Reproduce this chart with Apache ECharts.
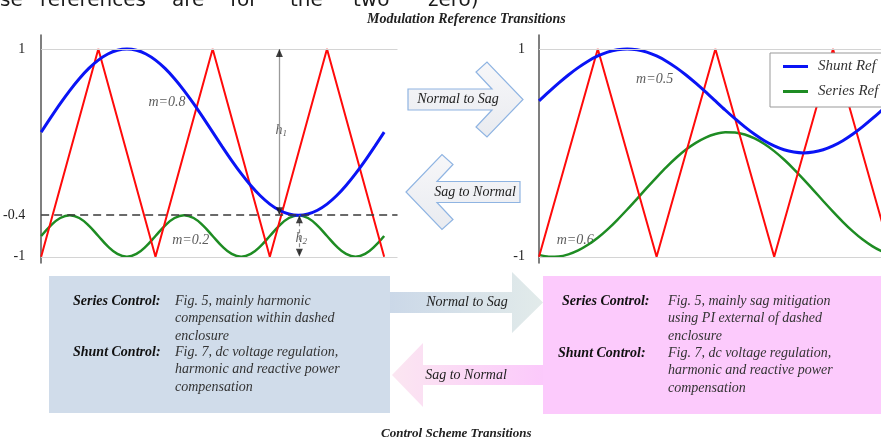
<!DOCTYPE html>
<html><head><meta charset="utf-8">
<script src="https://cdn.jsdelivr.net/npm/echarts@6/dist/echarts.min.js"></script>
<style>html,body{margin:0;padding:0;background:#fff}#c{width:881px;height:441px}</style>
</head><body><div id="c"></div>
<script>
// ================= DATA =================
// phase angle of the fundamental (degrees)
const angleDeg = [0,10,20,30,40,50,60,70,80,90,100,110,120,130,140,150,160,170,180,
  190,200,210,220,230,240,250,260,270,280,290,300,310,320,330,340,350,360];
// Normal operation: shunt reference (m=0.8) and series reference (m=0.2)
const shuntRefNormal = [0.2,0.339,0.474,0.6,0.714,0.813,0.893,0.952,0.988,1.0,0.988,0.952,0.893,
  0.813,0.714,0.6,0.474,0.339,0.2,0.061,-0.074,-0.2,-0.314,-0.413,-0.493,-0.552,-0.588,-0.6,
  -0.588,-0.552,-0.493,-0.413,-0.314,-0.2,-0.074,0.061,0.2];
const seriesRefNormal = [-0.8,-0.7,-0.627,-0.6,-0.627,-0.7,-0.8,-0.9,-0.973,-1.0,-0.973,-0.9,-0.8,
  -0.7,-0.627,-0.6,-0.627,-0.7,-0.8,-0.9,-0.973,-1.0,-0.973,-0.9,-0.8,
  -0.7,-0.627,-0.6,-0.627,-0.7,-0.8,-0.9,-0.973,-1.0,-0.973,-0.9,-0.8];
// Sag operation: shunt reference (m=0.5) and series reference (m=0.6)
const shuntRefSag = [0.5,0.587,0.671,0.75,0.821,0.883,0.933,0.97,0.992,1.0,0.992,0.97,0.933,0.883,
  0.821,0.75,0.671,0.587,0.5,0.413,0.329,0.25,0.179,0.117,0.067,0.03,0.008,0.0,0.008,0.03,0.067,
  0.117,0.179,0.25,0.329,0.413,0.5];
const seriesRefSag = [-0.982,-0.999,-0.997,-0.977,-0.939,-0.885,-0.817,-0.736,-0.644,-0.545,-0.442,
  -0.337,-0.235,-0.137,-0.047,0.032,0.097,0.148,0.182,0.199,0.197,0.177,0.139,0.085,0.017,-0.064,
  -0.156,-0.255,-0.358,-0.463,-0.565,-0.663,-0.753,-0.832,-0.897,-0.948,-0.982];
// triangular carrier
const carrierAngle = [0,60,120,180,240,300,360];
const carrierValue = [-1,1,-1,1,-1,1,-1];
// tick labels
const leftTickValues = [1,-0.6,-1];
const leftTickLabels = ['1','-0.4','-1'];
const rightTickValues = [1,-1];
const rightTickLabels = ['1','-1'];
const dashedLevel = -0.6;
// annotation labels [angle, value, text]
const leftNotes = [[132,0.49,'m=0.8'],[157,-0.837,'m=0.2'],[252,0.22,'{i|h}{s|1}'],[273,-0.82,'{i|h}{s|2}']];
const rightNotes = [[118,0.71,'m=0.5'],[37,-0.837,'m=0.6']];
// h1 / h2 arrows [angle, from, to]
const h1Arrow = [250,1,-0.6];
const h2Arrow = [271,-0.6,-1];
const legendNames = ['Shunt Ref','Series Ref'];

// ================= TEXT =================
const titleTop = 'Modulation Reference Transitions';
const titleBottom = 'Control Scheme Transitions';
const headerWords = ['se','references','are','for','the','two','zero)'];
const leftBoxLines = {series:['Fig. 5, mainly harmonic','compensation within dashed','enclosure'],
  shunt:['Fig. 7, dc voltage regulation,','harmonic and reactive power','compensation']};
const rightBoxLines = {series:['Fig. 5, mainly sag mitigation','using PI external of dashed','enclosure'],
  shunt:['Fig. 7, dc voltage regulation,','harmonic and reactive power','compensation']};

// ================= BUILD =================
const SERIF = "'Liberation Serif','DejaVu Serif',serif";
const BLUE = '#0a14f5', GREEN = '#1e8c23', RED = '#ff0a0a';
const pair = (xs, ys) => xs.map((x,i)=>[x, ys[i]]);

const headerX = [0,40,172,230,290,353,428];
const gfx = [];
headerWords.forEach((w,i)=>gfx.push({type:'text',left:headerX[i],top:-9,
  style:{text:w,font:"20px 'DejaVu Sans'",fill:'#1a1a1a'}}));

// top transition arrows (outlined chevrons)
function chevron(pts, txt, tx, ty) {
  gfx.push({type:'polygon',shape:{points:pts},
    style:{fill:new echarts.graphic.LinearGradient(0,0,0,1,[{offset:0,color:'#f7f7f9'},{offset:1,color:'#e9ebf0'}]),
    stroke:'#8fb4e2',lineWidth:1.2}});
  gfx.push({type:'text',x:tx,y:ty,style:{text:txt,font:'italic 14px '+SERIF,fill:'#222',align:'center',verticalAlign:'middle'}});
}
chevron([[408,89],[492,89],[476,72],[487,62],[523,99.5],[487,137],[476,127],[492,110],[408,110]],'Normal to Sag',458,99.5);
chevron([[520,181.5],[437,181.5],[453,164.5],[442,154.5],[406,192],[442,229.5],[453,219.5],[437,202.5],[520,202.5]],'Sag to Normal',475,192);

// bottom boxes
gfx.push({type:'rect',shape:{x:49,y:276,width:341,height:137},style:{fill:'#d0dcea'}});
gfx.push({type:'rect',shape:{x:543,y:276,width:338,height:138},style:{fill:'#fccafc'}});
// bottom arrows
gfx.push({type:'polygon',shape:{points:[[390,292],[512,292],[512,272],[543,302.5],[512,333],[512,313],[390,313]]},
  style:{fill:new echarts.graphic.LinearGradient(0,0,1,0,[{offset:0,color:'#cbd8e8'},{offset:1,color:'#e2ebea'}])}});
gfx.push({type:'polygon',shape:{points:[[543,365],[423,365],[423,343],[392,375],[423,407],[423,385],[543,385]]},
  style:{fill:new echarts.graphic.LinearGradient(1,0,0,0,[{offset:0,color:'#fbc9fb'},{offset:1,color:'#fbe6f1'}])}});
gfx.push({type:'text',x:467,y:302,style:{text:'Normal to Sag',font:'italic 14px '+SERIF,fill:'#222',align:'center',verticalAlign:'middle'}});
gfx.push({type:'text',x:466,y:375,style:{text:'Sag to Normal',font:'italic 14px '+SERIF,fill:'#222',align:'center',verticalAlign:'middle'}});

function boxText(lx1, lx2, vx, y1, y2, lines) {
  gfx.push({type:'text',x:lx1,y:y1,style:{text:'Series Control:',font:'italic bold 14px '+SERIF,fill:'#111',verticalAlign:'middle'}});
  gfx.push({type:'text',x:lx2,y:y2,style:{text:'Shunt Control:',font:'italic bold 14px '+SERIF,fill:'#111',verticalAlign:'middle'}});
  lines.series.forEach((t,i)=>gfx.push({type:'text',x:vx,y:y1+i*17.5,style:{text:t,font:'italic 14px '+SERIF,fill:'#333',verticalAlign:'middle'}}));
  lines.shunt.forEach((t,i)=>gfx.push({type:'text',x:vx,y:y2+i*17.5,style:{text:t,font:'italic 14px '+SERIF,fill:'#333',verticalAlign:'middle'}}));
}
boxText(73, 73, 175, 301, 352, leftBoxLines);
boxText(562, 558, 668, 301, 353, rightBoxLines);

const noteLabel = {show:true,position:'inside',formatter:p=>p.data[2],
  fontFamily:SERIF,fontStyle:'italic',fontSize:14,color:'#333',
  rich:{i:{fontFamily:SERIF,fontStyle:'italic',fontSize:14,color:'#333'},
        s:{fontFamily:SERIF,fontStyle:'italic',fontSize:9,color:'#333',padding:[8,0,0,0]}}};

function yAxisCfg(idx, vals, labels, margin) {
  return {type:'value',gridIndex:idx,min:-1.06,max:1.135,
    axisLine:{show:true,lineStyle:{color:'#555',width:1.5}},
    axisTick:{show:false},splitLine:{show:false},
    axisLabel:{customValues:vals,margin:margin,color:'#222',fontFamily:SERIF,fontSize:14,
      formatter:v=>{const k=vals.findIndex(t=>Math.abs(t-v)<1e-9);return k>=0?labels[k]:'';}}};
}
const gridLines = (withDash) => {
  const d = [{yAxis:1,lineStyle:{color:'#d4d4d4',width:1,type:'solid'}},
             {yAxis:-1,lineStyle:{color:'#d4d4d4',width:1,type:'solid'}}];
  if (withDash) d.push({yAxis:dashedLevel,lineStyle:{color:'#3a3a3a',width:1.6,type:[8,5]}});
  return {silent:true,symbol:'none',label:{show:false},data:d};
};
const UP = 'path://M5,0 L10,10 L0,10 Z', DOWN = 'path://M0,0 L10,0 L5,10 Z';
const arrowHeads = [
  {value:[h1Arrow[0],h1Arrow[1]],symbol:UP,symbolOffset:[0,'50%']},
  {value:[h1Arrow[0],h1Arrow[2]],symbol:DOWN,symbolOffset:[0,'-50%']},
  {value:[h2Arrow[0],h2Arrow[1]],symbol:UP,symbolOffset:[0,'50%']},
  {value:[h2Arrow[0],h2Arrow[2]],symbol:DOWN,symbolOffset:[0,'-50%']}
];

const option = {
  animation:false,
  title:[
    {text:titleTop,left:367,top:12,padding:0,textStyle:{fontFamily:SERIF,fontStyle:'italic',fontWeight:'bold',fontSize:14,color:'#222'}},
    {text:titleBottom,left:381,top:427,padding:0,textStyle:{fontFamily:SERIF,fontStyle:'italic',fontWeight:'bold',fontSize:13,color:'#222'}}
  ],
  legend:{data:legendNames,orient:'vertical',left:770,top:53,icon:'rect',itemWidth:25,itemHeight:3,itemGap:10,
    backgroundColor:'#fff',borderColor:'#999',borderWidth:1,padding:[6,6,8,13],
    textStyle:{fontFamily:SERIF,fontStyle:'italic',fontSize:15,color:'#333',padding:[0,0,0,5]}},
  grid:[{left:39.5,top:35,width:358,height:228},{left:539,top:35,right:0,height:228}],
  xAxis:[{type:'value',gridIndex:0,min:0,max:374,show:false},{type:'value',gridIndex:1,min:0,max:349,show:false}],
  yAxis:[yAxisCfg(0,leftTickValues,leftTickLabels,16),yAxisCfg(1,rightTickValues,rightTickLabels,14)],
  graphic:gfx,
  series:[
    {name:'Series Ref',type:'line',xAxisIndex:0,yAxisIndex:0,data:pair(angleDeg,seriesRefNormal),showSymbol:false,smooth:0.4,
      lineStyle:{color:GREEN,width:2.5},itemStyle:{color:GREEN},markLine:gridLines(true)},
    {name:'Carrier',type:'line',xAxisIndex:0,yAxisIndex:0,data:pair(carrierAngle,carrierValue),showSymbol:false,
      lineStyle:{color:RED,width:2},itemStyle:{color:RED},
      markLine:{silent:true,symbol:'none',label:{show:false},
        data:[[{coord:[h1Arrow[0],h1Arrow[1]],lineStyle:{color:'#9a9a9a',width:1.3,type:'solid'}},{coord:[h1Arrow[0],h1Arrow[2]]}],
              [{coord:[h2Arrow[0],h2Arrow[1]],lineStyle:{color:'#8a8a8a',width:1.2,type:[4,3]}},{coord:[h2Arrow[0],h2Arrow[2]]}]]}},
    {name:'Shunt Ref',type:'line',xAxisIndex:0,yAxisIndex:0,data:pair(angleDeg,shuntRefNormal),showSymbol:false,smooth:0.3,
      lineStyle:{color:BLUE,width:3},itemStyle:{color:BLUE}},
    {name:'heads',type:'scatter',xAxisIndex:0,yAxisIndex:0,data:arrowHeads,symbolSize:[7,8],
      itemStyle:{color:'#111'},silent:true,z:5},
    {name:'notesL',type:'scatter',xAxisIndex:0,yAxisIndex:0,data:leftNotes,symbolSize:0,label:noteLabel,silent:true},
    {name:'Series Ref',type:'line',xAxisIndex:1,yAxisIndex:1,data:pair(angleDeg,seriesRefSag),showSymbol:false,smooth:0.3,
      lineStyle:{color:GREEN,width:2.5},itemStyle:{color:GREEN},markLine:gridLines(false)},
    {name:'Carrier',type:'line',xAxisIndex:1,yAxisIndex:1,data:pair(carrierAngle,carrierValue),showSymbol:false,
      lineStyle:{color:RED,width:2},itemStyle:{color:RED}},
    {name:'Shunt Ref',type:'line',xAxisIndex:1,yAxisIndex:1,data:pair(angleDeg,shuntRefSag),showSymbol:false,smooth:0.3,
      lineStyle:{color:BLUE,width:3},itemStyle:{color:BLUE}},
    {name:'notesR',type:'scatter',xAxisIndex:1,yAxisIndex:1,data:rightNotes,symbolSize:0,label:noteLabel,silent:true}
  ]
};
echarts.init(document.getElementById('c')).setOption(option);
</script></body></html>
